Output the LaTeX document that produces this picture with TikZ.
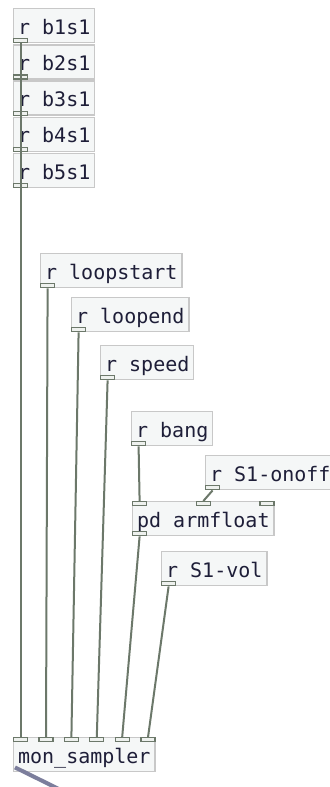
\documentclass[tikz,border=0pt]{standalone}
\usepackage{fontspec}
\setmonofont{DejaVu Sans Mono}
\usetikzlibrary{%
  positioning
}
\definecolor{boxline}{HTML}{C8C8C8}
\definecolor{boxfill}{HTML}{F5F7F7}
\definecolor{wirecol}{HTML}{6C786A}
\definecolor{portfill}{HTML}{EEF1EE}
\definecolor{objtext}{HTML}{1E1E38}
\definecolor{sigcol}{HTML}{7C7E9C}
\tikzstyle{pdobj}=[draw=boxline, fill=boxfill, line width=0.7pt, rectangle, anchor=north west, minimum height=17pt, inner xsep=2.2pt, inner ysep=0pt, text height=8.5pt, text depth=0pt, font=\ttfamily\fontsize{10}{12}\selectfont, text=objtext]
\tikzstyle{inlet}=[draw=wirecol, fill=portfill, line width=0.6pt, rectangle, minimum width=7pt, minimum height=2pt, inner sep=0pt, anchor=north west]
\tikzstyle{outlet}=[inlet, anchor=south west]
\tikzstyle{cord}=[draw=wirecol, line width=1pt]
\tikzstyle{sigcord}=[draw=sigcol, line width=2pt]

\begin{document}
\begin{tikzpicture}[x=0.5pt, y=-0.5pt, node distance=0.4pt]
        \useasboundingbox[fill=white] (0,0) rectangle (329,787);
        \node[pdobj] (b1s1) at (13,8) {r b1s1};
        \node[pdobj, below=of b1s1] (b2s1) {r b2s1};
        \node[pdobj, below=of b2s1] (b3s1) {r b3s1};
        \node[pdobj, below=of b3s1] (b4s1) {r b4s1};
        \node[pdobj, below=of b4s1] (b5s1) {r b5s1};
        \node[pdobj] (loopstart) at (40,253) {r loopstart};
        \node[pdobj] (loopend) at (71,297) {r loopend};
        \node[pdobj] (speed) at (100,345) {r speed};
        \node[pdobj] (bang) at (131,411) {r bang};
        \node[pdobj] (onoff) at (205,455) {r S1-onoff};
        \node[pdobj] (armfloat) at (132,501) {pd armfloat};
        \node[pdobj] (svol) at (161,551) {r S1-vol};
        \node[pdobj] (mon) at (13,737) {mon\_sampler};
        \node[outlet] (b1s1out) at (b1s1.south west) {};
        \node[outlet] (b2s1out) at (b2s1.south west) {};
        \node[outlet] (b3s1out) at (b3s1.south west) {};
        \node[outlet] (b4s1out) at (b4s1.south west) {};
        \node[outlet] (b5s1out) at (b5s1.south west) {};
        \node[outlet] (loopstartout) at (loopstart.south west) {};
        \node[outlet] (loopendout) at (loopend.south west) {};
        \node[outlet] (speedout) at (speed.south west) {};
        \node[outlet] (bangout) at (bang.south west) {};
        \node[outlet] (onoffout) at (onoff.south west) {};
        \node[outlet] (armfloatout) at (armfloat.south west) {};
        \node[outlet] (svolout) at (svol.south west) {};
        \node[inlet] (armin1) at (armfloat.north west) {};
        \node[inlet, anchor=north] (armin2) at (armfloat.north) {};
        \node[inlet, anchor=north east] (armin3) at (armfloat.north east) {};
        \node[inlet] (monin1) at (mon.north west) {};
        \node[inlet, xshift=12.7pt] (monin2) at (mon.north west) {};
        \node[inlet, xshift=25.4pt] (monin3) at (mon.north west) {};
        \node[inlet, xshift=38.1pt] (monin4) at (mon.north west) {};
        \node[inlet, xshift=50.8pt] (monin5) at (mon.north west) {};
        \node[inlet, anchor=north east] (monin6) at (mon.north east) {};
        \coordinate (sigend) at (75,797);
        \draw[cord] (b1s1out.south) -- (monin1.north);
        \draw[cord] (b2s1out.south) -- (monin1.north);
        \draw[cord] (b3s1out.south) -- (monin1.north);
        \draw[cord] (b4s1out.south) -- (monin1.north);
        \draw[cord] (b5s1out.south) -- (monin1.north);
        \draw[cord] (loopstartout.south) -- (monin2.north);
        \draw[cord] (loopendout.south) -- (monin3.north);
        \draw[cord] (speedout.south) -- (monin4.north);
        \draw[cord] (armfloatout.south) -- (monin5.north);
        \draw[cord] (svolout.south) -- (monin6.north);
        \draw[cord] (bangout.south) -- (armin1.north);
        \draw[cord] (onoffout.south) -- (armin2.north);
        \draw[sigcord] ([xshift=1pt, yshift=2.5pt]mon.south west) -- (sigend);
      \end{tikzpicture}
\end{document}
